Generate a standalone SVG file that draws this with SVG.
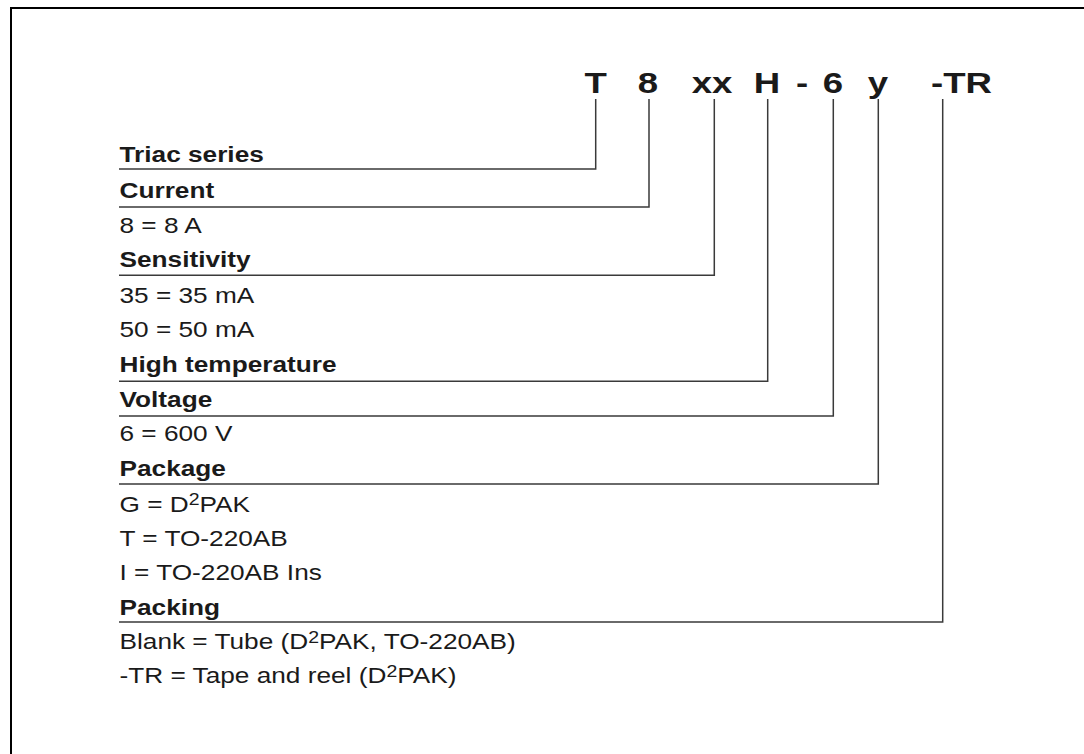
<svg xmlns="http://www.w3.org/2000/svg" width="1084" height="754" viewBox="0 0 1084 754">
<style>
.t{font-family:"Liberation Sans",Arial,sans-serif;fill:#1a1a1a}
.code{font-size:30px;font-weight:bold;text-anchor:middle}
.codes{font-size:30px;font-weight:bold}
.h{font-size:21.5px;font-weight:bold}
.r{font-size:21.5px}
tspan.sup{font-size:16px}
.c{fill:none;stroke:#3a3a3a;stroke-width:1.5}
</style>
<rect x="11" y="8" width="1100" height="800" fill="#fff" stroke="#000" stroke-width="2"/>
<g id="connectors">
<path class="c" d="M595.7 99V169H119"/>
<path class="c" d="M649 99V207H119"/>
<path class="c" d="M714.3 99V275.3H119"/>
<path class="c" d="M767.7 99V381.3H119"/>
<path class="c" d="M833.3 99V416H119"/>
<path class="c" d="M878.3 99V484H119"/>
<path class="c" d="M942.7 99V622H119"/>
</g>
<g id="code">
<text class="t code" transform="translate(595.7 93.3) scale(1.22 1)">T</text>
<text class="t code" transform="translate(648 93.3) scale(1.22 1)">8</text>
<text class="t code" transform="translate(712 93.3) scale(1.22 1)">xx</text>
<text class="t code" transform="translate(767 93.3) scale(1.22 1)">H</text>
<text class="t code" transform="translate(802 93.3) scale(1.22 1)">-</text>
<text class="t code" transform="translate(833 93.3) scale(1.22 1)">6</text>
<text class="t code" transform="translate(878 93.3) scale(1.22 1)">y</text>
<text class="t codes" transform="translate(931 93.3) scale(1.22 1)">-TR</text>
</g>
<g id="node-triac">
<text class="t h" transform="translate(119.5 162.3) scale(1.22 1)">Triac series</text>
</g>
<g id="node-current">
<text class="t h" transform="translate(119.5 198.3) scale(1.22 1)">Current</text>
<text class="t r" transform="translate(119.5 232.7) scale(1.22 1)">8 = 8 A</text>
</g>
<g id="node-sensitivity">
<text class="t h" transform="translate(119.5 267.3) scale(1.22 1)">Sensitivity</text>
<text class="t r" transform="translate(119.5 302.7) scale(1.22 1)">35 = 35 mA</text>
<text class="t r" transform="translate(119.5 336.7) scale(1.22 1)">50 = 50 mA</text>
</g>
<g id="node-hightemp">
<text class="t h" transform="translate(119.5 371.7) scale(1.22 1)">High temperature</text>
</g>
<g id="node-voltage">
<text class="t h" transform="translate(119.5 406.7) scale(1.22 1)">Voltage</text>
<text class="t r" transform="translate(119.5 441.3) scale(1.22 1)">6 = 600 V</text>
</g>
<g id="node-package">
<text class="t h" transform="translate(119.5 476) scale(1.22 1)">Package</text>
<text class="t r" transform="translate(119.5 511.7) scale(1.22 1)">G = D<tspan class="sup" dy="-6.5">2</tspan><tspan dy="6.5">PAK</tspan></text>
<text class="t r" transform="translate(119.5 546) scale(1.22 1)">T = TO-220AB</text>
<text class="t r" transform="translate(119.5 580) scale(1.22 1)">I = TO-220AB Ins</text>
</g>
<g id="node-packing">
<text class="t h" transform="translate(119.5 615) scale(1.22 1)">Packing</text>
<text class="t r" transform="translate(119.5 649.3) scale(1.22 1)">Blank = Tube (D<tspan class="sup" dy="-6.5">2</tspan><tspan dy="6.5">PAK, TO-220AB)</tspan></text>
<text class="t r" transform="translate(119.5 683.3) scale(1.22 1)">-TR = Tape and reel (D<tspan class="sup" dy="-6.5">2</tspan><tspan dy="6.5">PAK)</tspan></text>
</g>
</svg>
